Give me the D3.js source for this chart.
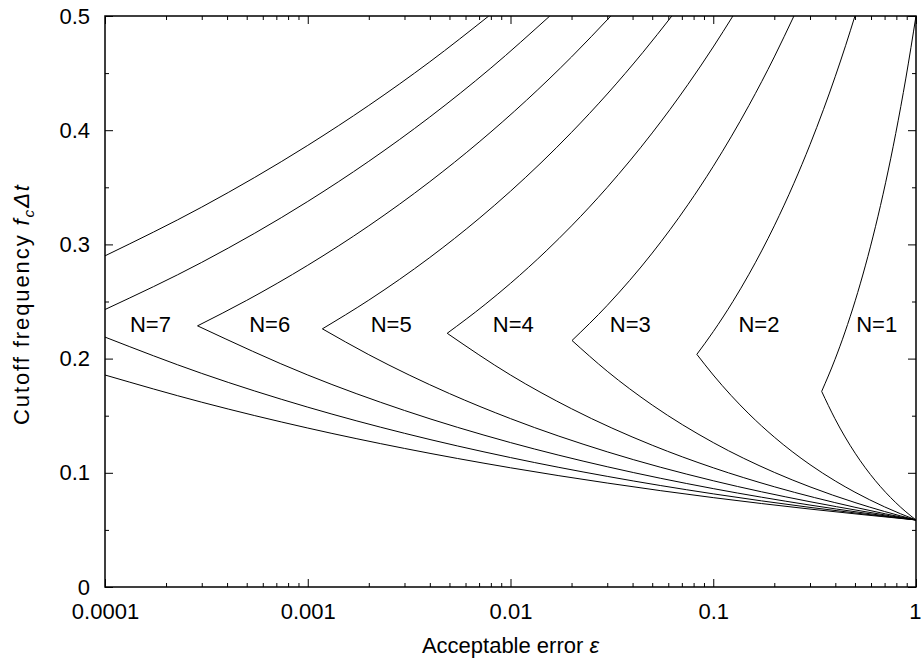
<!DOCTYPE html>
<html><head><meta charset="utf-8">
<script src="https://cdn.jsdelivr.net/npm/d3@7"></script>
<style>
html,body{margin:0;padding:0;background:#fff;}
svg{display:block;font-family:"Liberation Sans",Arial,sans-serif;}
</style></head>
<body>
<svg id="chart" width="921" height="666"></svg>
<script>
// ---- data: [acceptable error epsilon, cutoff frequency fcΔt] ----
const n1Upper = [[0.3426,0.1713],[0.39811,0.19905],[0.44668,0.22334],[0.50119,0.25059],[0.56234,0.28117],[0.63096,0.31548],[0.70795,0.35397],[0.79433,0.39716],[0.89125,0.44563],[1,0.5]];
const n1Lower = [[0.3426,0.1713],[0.39811,0.14745],[0.44668,0.13141],[0.50119,0.11712],[0.56234,0.10439],[0.63096,0.09303],[0.70795,0.08292],[0.79433,0.07390],[0.89125,0.06586],[1,0.0587]];
const n2Upper = [[0.08301,0.20373],[0.1,0.22361],[0.125,0.25],[0.15,0.27386],[0.2,0.31623],[0.25,0.35355],[0.3,0.38730],[0.35,0.41833],[0.4,0.44721],[0.45,0.47434],[0.5,0.5]];
const n2Lower = [[0.08301,0.20373],[0.1,0.18563],[0.15,0.15156],[0.2,0.13126],[0.3,0.10717],[0.4,0.09281],[0.5,0.08301],[0.7,0.07016],[1,0.0587]];
const n3Upper = [[0.02011,0.21585],[0.03,0.24662],[0.05,0.29240],[0.075,0.33472],[0.1,0.36840],[0.15,0.42172],[0.2,0.46416],[0.25,0.5]];
const n3Lower = [[0.02011,0.21585],[0.03,0.18892],[0.05,0.15934],[0.1,0.12646],[0.2,0.10038],[0.3,0.08769],[0.5,0.07396],[0.7,0.06611],[1,0.0587]];
const n4Upper = [[0.004873,0.22217],[0.0075,0.24746],[0.01,0.26591],[0.015,0.29428],[0.02,0.31623],[0.03,0.34996],[0.05,0.39764],[0.075,0.44006],[0.1,0.47287],[0.125,0.5]];
const n4Lower = [[0.004873,0.22217],[0.01,0.18563],[0.02,0.15609],[0.05,0.12414],[0.1,0.10439],[0.2,0.08778],[0.5,0.06981],[1,0.0587]];
const n5Upper = [[0.0011807,0.22606],[0.002,0.25119],[0.004,0.28854],[0.007,0.32271],[0.01,0.34657],[0.02,0.39811],[0.03,0.43171],[0.045,0.46821],[0.0625,0.5]];
const n5Lower = [[0.0011807,0.22606],[0.002,0.20344],[0.005,0.16938],[0.01,0.14745],[0.03,0.11836],[0.1,0.093032],[0.3,0.074681],[1,0.0587]];
const n6Upper = [[0.00028603,0.22868],[0.0005,0.25099],[0.001,0.28173],[0.002,0.31623],[0.004,0.35495],[0.007,0.38966],[0.012,0.42628],[0.02,0.46416],[0.03125,0.5]];
const n6Lower = [[0.00028603,0.22868],[0.001,0.18563],[0.003,0.15457],[0.01,0.12646],[0.03,0.10531],[0.1,0.086155],[0.3,0.071747],[1,0.0587]];
const n7Upper = [[0.0001,0.24298],[0.0003,0.28427],[0.001,0.33761],[0.002,0.37276],[0.004,0.41155],[0.008,0.45440],[0.015625,0.5]];
const n7Lower = [[0.0001,0.21882],[0.0003,0.18703],[0.001,0.15748],[0.003,0.13460],[0.01,0.11333],[0.03,0.09687],[0.1,0.081565],[0.3,0.069718],[1,0.0587]];
const n8Upper = [[0.0001,0.28998],[0.0003,0.33266],[0.001,0.38671],[0.002,0.42170],[0.004,0.45986],[0.0078125,0.5]];
const n8Lower = [[0.0001,0.18563],[0.0003,0.16181],[0.001,0.13920],[0.003,0.12134],[0.01,0.10439],[0.03,0.091028],[0.1,0.078257],[0.3,0.068234],[1,0.0587]];

const labelTexts = ["N=1","N=2","N=3","N=4","N=5","N=6","N=7"];
const labelEps   = [0.640,0.1681,0.03899,0.01032,0.00258,0.000649,0.0001676];
const labelFreq  = 0.23;

const xTickValues = [0.0001,0.001,0.01,0.1,1];
const xTickLabels = ["0.0001","0.001","0.01","0.1","1"];
const yTickValues = [0,0.1,0.2,0.3,0.4,0.5];
const yTickLabels = ["0","0.1","0.2","0.3","0.4","0.5"];
const xMinorTicks = [2,3,4,5,6,7,8,9].flatMap(m => [1e-4,1e-3,1e-2,1e-1].map(d => m*d));
const yMinorTicks = [0.05,0.15,0.25,0.35,0.45];

// ---- layout ----
const L = 105, R = 916, T = 16, B = 587;
const FS = 22;
const svg = d3.select("#chart");
const x = d3.scaleLog().domain([1e-4,1]).range([L,R]);
const y = d3.scaleLinear().domain([0,0.5]).range([B,T]);

function styleAxis(g){
  g.select(".domain").remove();
  g.selectAll("line").attr("stroke","#000").attr("stroke-width",1);
  g.selectAll("text").attr("fill","#000").attr("font-size",FS).attr("font-family","Liberation Sans, Arial, sans-serif");
}
// bottom
const bottomAxis = svg.append("g").attr("transform",`translate(0,${B})`)
  .call(d3.axisBottom(x).tickValues(xTickValues).tickFormat((d,i)=>xTickLabels[i]).tickSizeInner(-8).tickSizeOuter(0).tickPadding(16))
  .call(styleAxis);
// keep the last label "1" inside the canvas
bottomAxis.selectAll(".tick").filter(d => d === 1).select("text").attr("text-anchor","end").attr("x",5);
svg.append("g").attr("transform",`translate(0,${B})`)
  .call(d3.axisBottom(x).tickValues(xMinorTicks).tickFormat("").tickSizeInner(-4).tickSizeOuter(0))
  .call(styleAxis);
// top
svg.append("g").attr("transform",`translate(0,${T})`)
  .call(d3.axisTop(x).tickValues(xTickValues).tickFormat("").tickSizeInner(-8).tickSizeOuter(0))
  .call(styleAxis);
svg.append("g").attr("transform",`translate(0,${T})`)
  .call(d3.axisTop(x).tickValues(xMinorTicks).tickFormat("").tickSizeInner(-4).tickSizeOuter(0))
  .call(styleAxis);
// left
svg.append("g").attr("transform",`translate(${L},0)`)
  .call(d3.axisLeft(y).tickValues(yTickValues).tickFormat((d,i)=>yTickLabels[i]).tickSizeInner(-8).tickSizeOuter(0).tickPadding(15))
  .call(styleAxis);
svg.append("g").attr("transform",`translate(${L},0)`)
  .call(d3.axisLeft(y).tickValues(yMinorTicks).tickFormat("").tickSizeInner(-4).tickSizeOuter(0))
  .call(styleAxis);
// right
svg.append("g").attr("transform",`translate(${R},0)`)
  .call(d3.axisRight(y).tickValues(yTickValues).tickFormat("").tickSizeInner(-8).tickSizeOuter(0))
  .call(styleAxis);
svg.append("g").attr("transform",`translate(${R},0)`)
  .call(d3.axisRight(y).tickValues(yMinorTicks).tickFormat("").tickSizeInner(-4).tickSizeOuter(0))
  .call(styleAxis);

// curves
const line = d3.line().x(d=>x(d[0])).y(d=>y(d[1])).curve(d3.curveMonotoneX);
svg.append("clipPath").attr("id","pc").append("rect")
  .attr("x",L).attr("y",T).attr("width",R-L).attr("height",B-T);
const curves = svg.append("g").attr("clip-path","url(#pc)");
[n1Upper,n1Lower,n2Upper,n2Lower,n3Upper,n3Lower,n4Upper,n4Lower,
 n5Upper,n5Lower,n6Upper,n6Lower,n7Upper,n7Lower,n8Upper,n8Lower].forEach(s=>{
  curves.append("path").attr("d",line(s)).attr("fill","none")
    .attr("stroke","#000").attr("stroke-width",1).attr("stroke-linejoin","miter");
});

// frame
svg.append("rect").attr("x",L).attr("y",T).attr("width",R-L).attr("height",B-T)
  .attr("fill","none").attr("stroke","#000").attr("stroke-width",1.5);

// N labels
labelTexts.forEach((t,i)=>{
  svg.append("text").attr("x",x(labelEps[i])).attr("y",y(labelFreq)).attr("dy","0.35em")
    .attr("text-anchor","middle").attr("font-size",FS).attr("fill","#000").text(t);
});

// axis titles
const xt = svg.append("text").attr("x",(L+R)/2).attr("y",653).attr("text-anchor","middle")
  .attr("font-size",FS).attr("fill","#000");
xt.append("tspan").text("Acceptable error ");
xt.append("tspan").attr("font-style","italic").text("ε");

const yt = svg.append("text").attr("transform",`translate(29,305) rotate(-90)`)
  .attr("text-anchor","middle").attr("font-size",FS).attr("fill","#000")
  .attr("textLength",240).attr("lengthAdjust","spacing");
yt.append("tspan").text("Cutoff frequency ");
yt.append("tspan").attr("font-style","italic").text("f");
yt.append("tspan").attr("font-style","italic").attr("font-size",FS*0.7).attr("dy",5).text("c");
yt.append("tspan").attr("font-style","italic").attr("dy",-5).text("Δt");
</script>
</body></html>
